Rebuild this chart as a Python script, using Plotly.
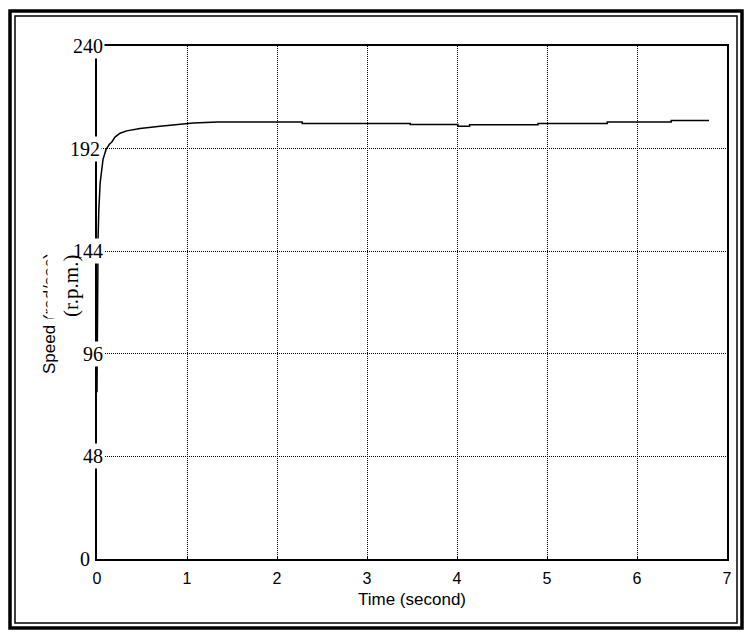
import plotly.graph_objects as go

# ---- data ----
time_s = [0, 0.005, 0.012, 0.02, 0.035, 0.067, 0.1, 0.137, 0.163, 0.2, 0.256, 0.33,
          0.478, 0.7, 0.92, 1.07, 1.34, 2.28, 2.28, 3.48, 3.48, 4.01, 4.01, 4.14,
          4.14, 4.9, 4.9, 5.67, 5.67, 6.38, 6.38, 6.8]
speed = [78, 120, 150, 163, 176, 187, 191.5, 194, 195, 197.4, 199.2, 200.3,
         201.4, 202.5, 203.3, 204, 204.5, 204.5, 203.8, 203.8, 203.3, 203.3, 202.5, 202.5,
         203.1, 203.1, 203.8, 203.8, 204.5, 204.5, 205.1, 205.1]
x_ticks = [0, 1, 2, 3, 4, 5, 6, 7]
y_ticks = [0, 48, 96, 144, 192, 240]
y_tick_labels = ["0", "48", "96", "144", "192", "240"]

W, H = 746, 632
L, R, T, B = 97, 19, 46, 73
PW, PH = W - L - R, H - T - B


def px(p):
    return (p - L) / PW


def py(p):
    return (H - B - p) / PH


fig = go.Figure()
fig.add_trace(go.Scatter(x=time_s, y=speed, mode="lines",
                         line=dict(color="black", width=1.5), hoverinfo="skip"))

serif = "Liberation Serif"
sans = "Liberation Sans"

annotations = []
annotations.append(dict(x=0.5, y=py(599), xref="paper", yref="paper", text="Time (second)",
                        showarrow=False, xanchor="center", yanchor="middle",
                        font=dict(family=sans, size=17, color="black")))
annotations.append(dict(x=px(49), y=py(313), xref="paper", yref="paper", text="Speed (rad/sec)",
                        showarrow=False, xanchor="center", yanchor="middle", textangle=-90,
                        font=dict(family=sans, size=17, color="black")))
# white patch of the overprinted label (covers most of "(rad/sec)")
annotations.append(dict(x=px(64), y=py(275), xref="paper", yref="paper", text=" ",
                        showarrow=False, xanchor="center", yanchor="middle",
                        width=32, height=86, bgcolor="white", borderpad=0,
                        font=dict(family=serif, size=10, color="black")))

for v, lab in zip(y_ticks, y_tick_labels):
    if v == 0:
        annotations.append(dict(x=0, y=v, xref="x", yref="y", text=lab, showarrow=False,
                                xanchor="right", yanchor="middle", xshift=-5,
                                font=dict(family=serif, size=20, color="black")))
    else:
        shift = 5 if v == 192 else 8
        annotations.append(dict(x=0, y=v, xref="x", yref="y", text=lab, showarrow=False,
                                xanchor="right", yanchor="middle", xshift=shift,
                                bgcolor="white", borderpad=1,
                                font=dict(family=serif, size=20, color="black")))

annotations.append(dict(x=px(71), y=py(286), xref="paper", yref="paper", text="(r.p.m.)",
                        showarrow=False, xanchor="center", yanchor="middle", textangle=-90,
                        font=dict(family=serif, size=21, color="black")))

shapes = [
    dict(type="rect", xref="paper", yref="paper", x0=px(10), x1=px(742), y0=py(11), y1=py(628),
         line=dict(color="black", width=3.5)),
    dict(type="rect", xref="paper", yref="paper", x0=px(15), x1=px(737), y0=py(16), y1=py(623),
         line=dict(color="black", width=1.5)),
]

axis_common = dict(showline=True, linecolor="black", linewidth=2, mirror=True,
                   showgrid=True, gridcolor="black", gridwidth=1, griddash="1px,1px",
                   zeroline=False, ticks="inside", ticklen=3, tickcolor="black")

fig.update_layout(
    width=W, height=H,
    margin=dict(l=L, r=R, t=T, b=B),
    paper_bgcolor="white", plot_bgcolor="white",
    showlegend=False,
    xaxis=dict(range=[0, 7], tickvals=x_ticks, ticktext=[str(v) for v in x_ticks],
               tickfont=dict(family=sans, size=16, color="black"), ticklabelstandoff=4,
               **axis_common),
    yaxis=dict(range=[0, 240], tickvals=y_ticks, showticklabels=False, **axis_common),
    annotations=annotations,
    shapes=shapes,
)

fig.write_html("out.html")
